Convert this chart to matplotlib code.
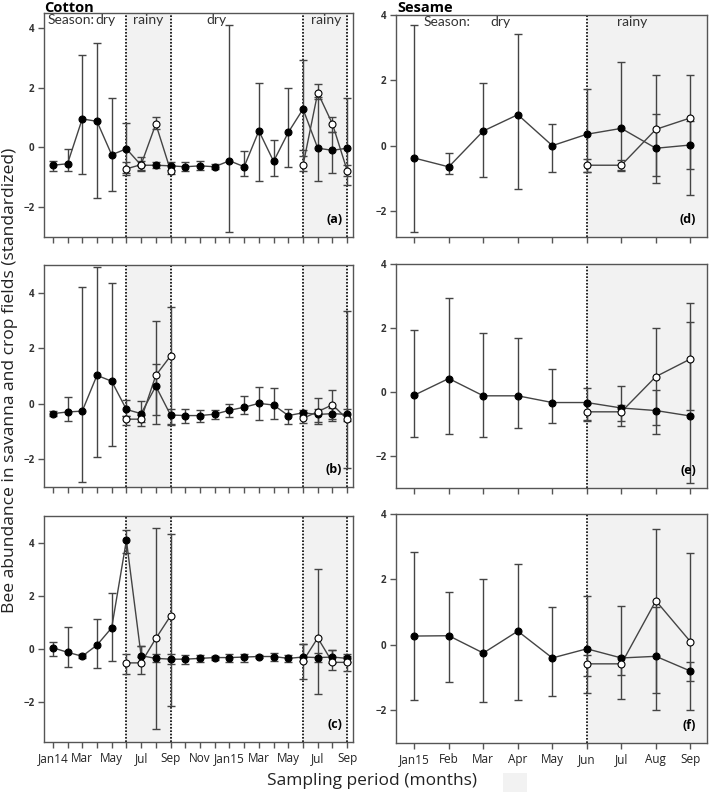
import numpy as np
import matplotlib
matplotlib.use("Agg")
import matplotlib.pyplot as plt

nan = np.nan

# ---------------- data ----------------
cot_ticks = ['Jan14', 'Mar', 'May', 'Jul', 'Sep', 'Nov', 'Jan15', 'Mar', 'May', 'Jul', 'Sep']
ses_ticks = ['Jan15', 'Feb', 'Mar', 'Apr', 'May', 'Jun', 'Jul', 'Aug', 'Sep']

# cotton (a) - savanna (filled) and crop field (open)
a_sav = [-0.6, -0.55, 0.95, 0.87, -0.25, -0.05, -0.6, -0.6, -0.62, -0.65, -0.62,
         -0.65, -0.45, -0.65, 0.55, -0.47, 0.5, 1.28, -0.03, -0.1, -0.03]
a_sav_hi = [-0.45, -0.05, 3.1, 3.5, 1.65, 0.83, -0.45, -0.5, -0.5, -0.5, -0.45,
            -0.55, 4.1, -0.13, 2.15, 0.25, 2.0, 2.93, 1.7, 0.5, 1.65]
a_sav_lo = [-0.8, -0.8, -0.88, -1.68, -1.45, -0.85, -0.75, -0.7, -0.75, -0.78, -0.75,
            -0.72, -2.85, -0.97, -1.12, -0.95, -0.65, -0.3, -1.12, -0.87, -1.25]
a_crop = [nan] * 5 + [-0.72, -0.58, 0.78, -0.78] + [nan] * 8 + [-0.6, 1.83, 0.78, -0.78]
a_crop_hi = [nan] * 5 + [-0.5, -0.33, 1.02, -0.6] + [nan] * 8 + [-0.1, 2.12, 1.02, -0.6]
a_crop_lo = [nan] * 5 + [-0.92, -0.8, 0.6, -0.88] + [nan] * 8 + [-0.8, 1.6, 0.5, -0.95]

# cotton (b)
b_sav = [-0.35, -0.29, -0.26, 1.03, 0.82, -0.2, -0.35, 0.64, -0.4, -0.42, -0.42,
         -0.37, -0.23, -0.12, 0.02, -0.04, -0.42, -0.32, -0.38, -0.35, -0.38]
b_sav_hi = [-0.25, 0.25, 4.2, 4.95, 4.35, 0.13, 0.1, 1.45, -0.2, -0.2, -0.22,
            -0.22, -0.02, 0.27, 0.62, 0.57, -0.2, -0.22, -0.2, -0.15, -0.2]
b_sav_lo = [-0.45, -0.62, -2.8, -1.92, -1.5, -0.45, -0.65, -0.4, -0.72, -0.68, -0.65,
            -0.55, -0.48, -0.38, -0.58, -0.55, -0.72, -0.45, -0.65, -0.62, -0.6]
b_crop = [nan] * 5 + [-0.55, -0.55, 1.03, 1.73] + [nan] * 8 + [-0.52, -0.28, -0.03, -0.55]
b_crop_hi = [nan] * 5 + [-0.42, -0.4, 3.0, 3.5] + [nan] * 8 + [-0.3, 0.23, 0.52, 3.35]
b_crop_lo = [nan] * 5 + [-0.75, -0.78, -0.72, -0.75] + [nan] * 8 + [-0.7, -0.72, -0.55, -2.3]

# cotton (c)
c_sav = [0.05, -0.12, -0.27, 0.15, 0.8, 4.1, -0.25, -0.35, -0.38, -0.38, -0.35,
         -0.32, -0.32, -0.3, -0.28, -0.28, -0.35, -0.3, -0.32, -0.3, -0.35]
c_sav_hi = [0.28, 0.85, -0.2, 1.12, 2.1, 4.5, 0.13, -0.18, -0.2, -0.22, -0.22,
            -0.25, -0.17, -0.17, -0.22, -0.15, -0.22, 0.2, -0.15, -0.02, -0.2]
c_sav_lo = [-0.25, -0.68, -0.33, -0.72, -0.43, 3.6, -0.3, -0.5, -0.55, -0.55, -0.5,
            -0.4, -0.47, -0.47, -0.32, -0.43, -0.47, -0.45, -0.5, -0.52, -0.5]
c_crop = [nan] * 5 + [-0.52, -0.52, 0.4, 1.25] + [nan] * 8 + [-0.45, 0.42, -0.5, -0.5]
c_crop_hi = [nan] * 5 + [-0.18, 0.13, 4.55, 4.35] + [nan] * 8 + [0.2, 3.02, -0.02, -0.25]
c_crop_lo = [nan] * 5 + [-0.95, -0.95, -3.0, -2.15] + [nan] * 8 + [-1.12, -1.7, -0.8, -0.82]

# sesame (d)
d_sav = [-0.38, -0.65, 0.45, 0.95, 0.0, 0.35, 0.53, -0.08, 0.02]
d_sav_hi = [3.7, -0.22, 1.92, 3.42, 0.65, 1.73, 2.55, 0.97, 0.75]
d_sav_lo = [-2.65, -0.88, -0.97, -1.32, -0.82, -0.82, -0.75, -1.15, -0.72]
d_crop = [nan] * 5 + [-0.6, -0.6, 0.5, 0.85]
d_crop_hi = [nan] * 5 + [-0.42, -0.45, 2.17, 2.17]
d_crop_lo = [nan] * 5 + [-0.8, -0.77, -0.93, -1.52]

# sesame (e)
e_sav = [-0.1, 0.42, -0.12, -0.12, -0.33, -0.33, -0.5, -0.58, -0.75]
e_sav_hi = [1.93, 2.93, 1.85, 1.67, 0.73, 0.12, 0.2, 0.07, 2.18]
e_sav_lo = [-1.4, -1.32, -1.42, -1.12, -0.98, -0.9, -1.05, -1.3, -2.85]
e_crop = [nan] * 5 + [-0.62, -0.62, 0.48, 1.03]
e_crop_hi = [nan] * 5 + [-0.38, -0.4, 2.0, 2.78]
e_crop_lo = [nan] * 5 + [-0.88, -0.9, -1.02, -0.55]

# sesame (f)
f_sav = [0.27, 0.28, -0.25, 0.42, -0.4, -0.12, -0.4, -0.35, -0.8]
f_sav_hi = [2.83, 1.62, 2.0, 2.47, 1.15, 1.48, 1.2, 1.15, -0.52]
f_sav_lo = [-1.7, -1.13, -1.75, -1.7, -1.57, -1.48, -1.65, -2.0, -1.98]
f_crop = [nan] * 5 + [-0.58, -0.58, 1.35, 0.1]
f_crop_hi = [nan] * 5 + [-0.3, -0.35, 3.55, 2.8]
f_crop_lo = [nan] * 5 + [-0.95, -0.93, -1.48, -1.1]

# ---------------- plotting ----------------
plt.rcParams['font.family'] = ['Open Sans', 'DejaVu Sans']
EDGE = '#444444'
SHADE = '#f2f2f2'
TXT = '#333333'
DOT = (0, (1, 1))
SEASON = dict(fontsize=10, color=TXT, family=['Lato', 'DejaVu Sans'], va='top')

fig = plt.figure(figsize=(7.09, 7.92), dpi=100)

left_pos = [[0.062, 0.7008, 0.436, 0.283],
            [0.062, 0.385, 0.436, 0.280],
            [0.062, 0.0631, 0.436, 0.285]]
right_pos = [[0.5585, 0.7008, 0.4386, 0.280],
             [0.5585, 0.3838, 0.4386, 0.283],
             [0.5585, 0.0619, 0.4386, 0.289]]


def draw_series(ax, x, m, lo, hi, filled):
    m = np.array(m, dtype=float)
    err = [m - np.array(lo, dtype=float), np.array(hi, dtype=float) - m]
    ax.errorbar(x, m, yerr=err, fmt='none', ecolor=EDGE, elinewidth=1.0,
                capsize=3, capthick=1.0, zorder=3)
    ax.plot(x, m, '-', color=EDGE, lw=1.0, zorder=4)
    ax.plot(x, m, 'o', ms=5,
            mfc='black' if filled else 'white', mec='black', mew=0.8, zorder=5)


def style_axes(ax):
    for s in ax.spines.values():
        s.set_color('#555555')
        s.set_linewidth(1.0)
    ax.tick_params(axis='both', direction='out', length=4, width=1.0,
                   color='#555555')
    ax.tick_params(axis='y', labelsize=7, pad=3)
    ax.set_yticks([-2, 0, 2, 4])
    ax.set_yticklabels(['\u22122', '0', '2', '4'], fontweight='bold', color=TXT)


# cotton panels
cot_x = np.arange(21)
cot_sets = [(a_sav, a_sav_lo, a_sav_hi, a_crop, a_crop_lo, a_crop_hi, (-3, 4.5), '(a)'),
            (b_sav, b_sav_lo, b_sav_hi, b_crop, b_crop_lo, b_crop_hi, (-3, 5), '(b)'),
            (c_sav, c_sav_lo, c_sav_hi, c_crop, c_crop_lo, c_crop_hi, (-3.5, 5), '(c)')]
for i, (sv, svl, svh, cr, crl, crh, yl, lab) in enumerate(cot_sets):
    ax = fig.add_axes(left_pos[i])
    for a0, a1 in [(5, 8), (17, 20)]:
        ax.axvspan(a0, a1, color=SHADE, zorder=0)
    for xv in [5, 8, 17, 20]:
        ax.axvline(xv, color='black', ls=DOT, lw=1.2, zorder=1)
    draw_series(ax, cot_x, sv, svl, svh, True)
    draw_series(ax, cot_x, cr, crl, crh, False)
    ax.set_xlim(-0.6, 20.4)
    ax.set_ylim(*yl)
    style_axes(ax)
    ax.set_xticks(cot_x)
    if i == 2:
        labels = [cot_ticks[k // 2] if k % 2 == 0 else '' for k in cot_x]
        ax.set_xticklabels(labels, fontsize=8.5, color='#222222')
    else:
        ax.set_xticklabels([])
    ax.text(0.965, 0.05, lab, transform=ax.transAxes, ha='right', va='bottom',
            fontsize=9, fontweight='bold')
    if i == 0:
        ax.text(-0.35, 4.47, 'Season:', ha='left', **SEASON)
        ax.text(3.6, 4.47, 'dry', ha='center', **SEASON)
        ax.text(6.5, 4.47, 'rainy', ha='center', **SEASON)
        ax.text(11.1, 4.47, 'dry', ha='center', **SEASON)
        ax.text(18.6, 4.47, 'rainy', ha='center', **SEASON)

# sesame panels
ses_x = np.arange(9)
ses_sets = [(d_sav, d_sav_lo, d_sav_hi, d_crop, d_crop_lo, d_crop_hi, (-2.8, 4), '(d)'),
            (e_sav, e_sav_lo, e_sav_hi, e_crop, e_crop_lo, e_crop_hi, (-3, 4), '(e)'),
            (f_sav, f_sav_lo, f_sav_hi, f_crop, f_crop_lo, f_crop_hi, (-3, 4), '(f)')]
for i, (sv, svl, svh, cr, crl, crh, yl, lab) in enumerate(ses_sets):
    ax = fig.add_axes(right_pos[i])
    ax.axvspan(5, 8.6, color=SHADE, zorder=0)
    ax.axvline(5, color='black', ls=DOT, lw=1.2, zorder=1)
    draw_series(ax, ses_x, sv, svl, svh, True)
    draw_series(ax, ses_x, cr, crl, crh, False)
    ax.set_xlim(-0.53, 8.48)
    ax.set_ylim(*yl)
    style_axes(ax)
    ax.set_xticks(ses_x)
    if i == 2:
        ax.set_xticklabels(ses_ticks, fontsize=8.5, color='#222222')
    else:
        ax.set_xticklabels([])
    ax.text(0.965, 0.05, lab, transform=ax.transAxes, ha='right', va='bottom',
            fontsize=9, fontweight='bold')
    if i == 0:
        ax.text(0.26, 3.97, 'Season:', ha='left', **SEASON)
        ax.text(2.5, 3.97, 'dry', ha='center', **SEASON)
        ax.text(6.3, 3.97, 'rainy', ha='center', **SEASON)

fig.text(0.062, 0.999, 'Cotton', ha='left', va='top', fontsize=10.5, fontweight='bold')
fig.text(0.561, 0.999, 'Sesame', ha='left', va='top', fontsize=10.5, fontweight='bold')

fig.text(0.003, 0.52, 'Bee abundance in savanna and crop fields (standardized)',
         rotation=90, ha='left', va='center', fontsize=12.6, color='#222222')
fig.text(0.525, 0.014, 'Sampling period (months)', ha='center', va='center',
         fontsize=12.5, color='#222222')
# small grey swatch next to the x label
fig.patches.append(plt.Rectangle((0.709, 0.0), 0.034, 0.024, transform=fig.transFigure,
                                 facecolor=SHADE, edgecolor='none'))

fig.savefig('out.png', dpi=100)
